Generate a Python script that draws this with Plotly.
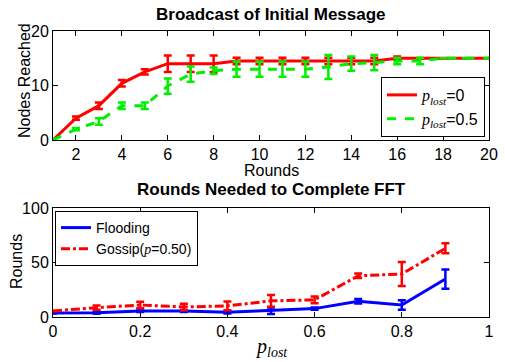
import plotly.graph_objects as go

# Top chart data
rounds = list(range(1, 21))
red_vals = [0, 4.0, 6.3, 10.4, 12.5, 14.0, 14.0, 14.0, 14.5, 14.5, 14.5, 14.5, 14.5, 14.5, 14.5, 15, 15, 15, 15, 15]
red_err = [0, 0.3, 0.6, 0.6, 0.5, 1.5, 1.5, 1.5, 0.6, 0.6, 0.6, 0.6, 0.6, 0.6, 0.6, 0.3, 0, 0, 0, 0]
green_vals = [0, 2.0, 3.4, 6.3, 6.3, 9.9, 12.1, 12.7, 13.0, 13.0, 13.0, 13.0, 13.4, 14.0, 14.2, 14.5, 14.5, 15, 15, 15]
green_err = [0, 0.2, 0.6, 0.6, 0.6, 1.4, 1.4, 0.6, 1.4, 1.4, 1.4, 1.4, 2.2, 1.3, 1.4, 0.6, 0.6, 0, 0, 0]

# Bottom chart data
p_lost = [0, 0.1, 0.2, 0.3, 0.4, 0.5, 0.6, 0.7, 0.8, 0.9]
flood_vals = [3.7, 4.0, 5.5, 5.5, 4.3, 5.8, 7.7, 14.5, 11.0, 34.8]
flood_err = [0.5, 1.0, 1.0, 1.0, 1.0, 3.0, 1.0, 2.0, 4.3, 8.8]
gossip_vals = [5.5, 8.6, 11.0, 9.2, 10.2, 14.8, 15.7, 37.8, 39.4, 63.0]
gossip_err = [0, 2.0, 3.0, 3.0, 4.0, 5.4, 3.0, 2.0, 11.0, 4.6]

W, H = 505, 362
def px(x):
    return x / W
def py(y):
    return 1 - y / H

SANS = "Liberation Sans, Arial, sans-serif"
SERIF = "Liberation Serif, Times New Roman, serif"
plost = "<span style='font-family:Liberation Serif'><i>p</i><sub><i>lost</i></sub></span>"

fig = go.Figure()

fig.add_trace(go.Scatter(
    x=rounds, y=red_vals, mode="lines", name=plost + "=0",
    line=dict(color="#ff0000", width=3),
    error_y=dict(type="data", array=red_err, color="#ff0000", thickness=2.5, width=4),
    xaxis="x", yaxis="y", legend="legend"))
fig.add_trace(go.Scatter(
    x=rounds, y=green_vals, mode="lines", name=plost + "=0.5",
    line=dict(color="#00f000", width=3, dash="dash"),
    error_y=dict(type="data", array=green_err, color="#00f000", thickness=2.5, width=4),
    xaxis="x", yaxis="y", legend="legend"))

fig.add_trace(go.Scatter(
    x=p_lost, y=flood_vals, mode="lines", name="Flooding",
    line=dict(color="#0000ff", width=3),
    error_y=dict(type="data", array=flood_err, color="#0000ff", thickness=2.5, width=4),
    xaxis="x2", yaxis="y2", legend="legend2"))
fig.add_trace(go.Scatter(
    x=p_lost, y=gossip_vals, mode="lines",
    name="Gossip(<span style='font-family:Liberation Serif'><i>p</i></span>=0.50)",
    line=dict(color="#ff0000", width=3, dash="dashdot"),
    error_y=dict(type="data", array=gossip_err, color="#ff0000", thickness=2.5, width=4),
    xaxis="x2", yaxis="y2", legend="legend2"))

axis_common = dict(showline=True, linecolor="black", linewidth=1, mirror="ticks",
                   ticks="inside", ticklen=5, tickcolor="black", showgrid=False,
                   zeroline=False, automargin=False,
                   tickfont=dict(family=SANS, size=16, color="black"))

def ann(text, x, y, size=15, family=SANS, angle=0):
    return dict(text=text, x=px(x), y=py(y), xref="paper", yref="paper",
                xanchor="center", yanchor="middle", textangle=angle,
                showarrow=False, font=dict(family=family, size=size, color="black"))

fig.update_layout(
    width=W, height=H, margin=dict(l=0, r=0, t=0, b=0, pad=0, autoexpand=False),
    paper_bgcolor="white", plot_bgcolor="white",
    showlegend=True,
    xaxis=dict(domain=[px(53), px(489)], range=[1, 20], tickvals=list(range(2, 21, 2)),
               anchor="y", **axis_common),
    yaxis=dict(domain=[py(140), py(31)], range=[0, 20], tickvals=[0, 10, 20],
               anchor="x", **axis_common),
    xaxis2=dict(domain=[px(53), px(489)], range=[0, 1], tickvals=[0, 0.2, 0.4, 0.6, 0.8, 1],
                ticktext=["0", "0.2", "0.4", "0.6", "0.8", "1"], anchor="y2", **axis_common),
    yaxis2=dict(domain=[py(317), py(208)], range=[0, 100], tickvals=[0, 50, 100],
                anchor="x2", **axis_common),
    legend=dict(x=px(485), y=py(137), xanchor="right", yanchor="bottom",
                bgcolor="white", bordercolor="black", borderwidth=1,
                font=dict(family=SANS, size=16, color="black"),
                tracegroupgap=0, itemwidth=30),
    legend2=dict(x=px(55), y=py(211), xanchor="left", yanchor="top",
                 bgcolor="white", bordercolor="black", borderwidth=1,
                 font=dict(family=SANS, size=14, color="black"),
                 tracegroupgap=0, itemwidth=30),
    annotations=[
        ann("<b>Broadcast of Initial Message</b>", 271, 14, size=17),
        ann("<b>Rounds Needed to Complete FFT</b>", 271, 189, size=17),
        ann("Nodes Reached", 24, 81, size=16, angle=-90),
        ann("Rounds", 271, 170, size=16),
        ann("Rounds", 16, 262, size=16, angle=-90),
        ann("<i>p</i><sub><i>lost</i></sub>", 271, 347, size=20, family=SERIF),
    ],
)

fig.write_html("out.html")
